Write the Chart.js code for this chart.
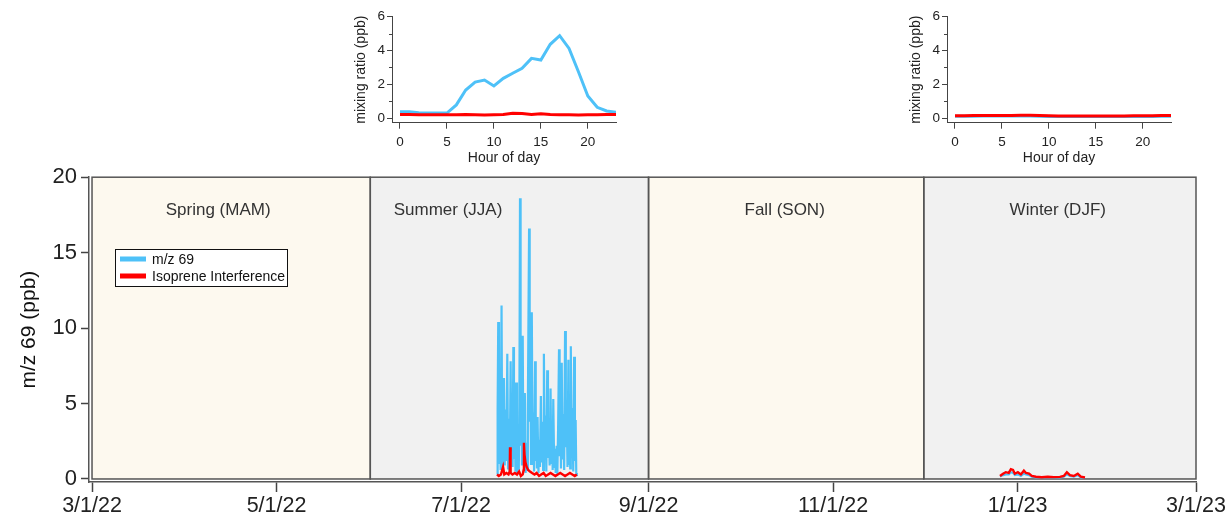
<!DOCTYPE html>
<html lang="en">
<head>
<meta charset="UTF-8">
<title>m/z 69 time series</title>
<script src="https://cdn.jsdelivr.net/npm/chart.js"></script>
<style>
  body { margin: 0; background: #fff; width: 1227px; height: 520px; overflow: hidden; position: relative; }
  .box { position: absolute; }
</style>
</head>
<body>
<div class="box" style="left:0;top:160px;width:1227px;height:360px;"><canvas id="mainChart"></canvas></div>
<div class="box" style="left:340px;top:0;width:290px;height:170px;"><canvas id="summerInset"></canvas></div>
<div class="box" style="left:895px;top:0;width:290px;height:170px;"><canvas id="winterInset"></canvas></div>

<script>
// ---- data (x in days since 3/1/22) ----
const tickDays = [0, 61, 122, 184, 245, 306, 365];
const tickLabels = ['3/1/22', '5/1/22', '7/1/22', '9/1/22', '11/1/22', '1/1/23', '3/1/23'];
const yTicks = [0, 5, 10, 15, 20];

const seasonNames = ['Spring (MAM)', 'Summer (JJA)', 'Fall (SON)', 'Winter (DJF)'];
const seasonStart = [0, 92, 184, 275];
const seasonEnd = [92, 184, 275, 365];
const seasonLabelDay = [41.7, 117.7, 229, 319.3];

const mz69Days = [
  133.9, 134.1, 134.3, 134.55, 134.8, 135.1, 135.4, 135.6, 135.8, 136.0,
  136.2, 136.45, 136.7, 137.0, 137.3, 137.55, 137.8, 138.1, 138.4, 138.6,
  138.85, 139.05, 139.3, 139.5, 139.75, 140.0, 140.2, 140.5, 140.8, 141.1,
  141.3, 141.5, 141.7, 141.95, 142.15, 142.4, 142.6, 142.85, 143.1, 143.35,
  143.6, 143.85, 144.1, 144.5, 144.7, 144.95, 145.15, 145.4, 145.65, 145.9,
  146.15, 146.5, 146.7, 146.95, 147.1, 147.3, 147.6, 147.85, 148.1, 148.4,
  148.65, 148.9, 149.15, 149.4, 149.65, 149.9, 150.2, 150.5, 150.75, 151.0,
  151.3, 151.6, 151.85, 152.1, 152.3, 152.5, 152.8, 153.05, 153.3, 153.6,
  153.85, 154.1, 154.4, 154.6, 154.85, 155.05, 155.3, 155.55, 155.8, 156.1,
  156.4, 156.65, 156.9, 157.2, 157.5, 157.7, 157.95, 158.1, 158.3, 158.55,
  158.8, 159.1, 159.4, 159.65, 159.9, 160.1, 160.3];
const mz69Values = [
  0.3, 4.5, 10.4, 1.0, 3.9, 0.6, 11.5, 2.5, 0.5, 3.2,
  6.7, 0.9, 4.6, 1.2, 8.3, 0.7, 4.0, 0.4, 7.8, 1.9,
  5.2, 0.8, 8.75, 1.3, 3.6, 0.5, 6.4, 0.3, 2.8, 0.6,
  5.0, 18.6, 2.2, 6.1, 0.9, 9.5, 1.4, 3.3, 5.7, 0.4,
  2.4, 0.6, 4.8, 16.6, 3.8, 6.5, 1.0, 11.05, 2.0, 4.4,
  0.5, 7.8, 1.2, 3.0, 0.7, 4.1, 0.4, 2.6, 0.8, 5.5,
  1.1, 3.8, 0.6, 8.3, 1.7, 4.2, 0.5, 7.2, 1.4, 3.5,
  0.9, 6.0, 1.0, 3.1, 0.6, 5.3, 0.8, 2.0, 0.4, 2.2,
  0.3, 3.4, 8.6, 1.5, 4.9, 0.7, 7.7, 1.3, 4.3, 0.6,
  9.8, 2.1, 5.0, 0.8, 7.9, 1.0, 4.5, 0.7, 8.8, 1.6,
  4.7, 0.5, 8.1, 1.2, 3.9, 0.4, 0.2];

const isoSummerDays = [133.9, 134.5, 135.2, 135.9, 136.3, 137.0, 137.7, 138.1, 138.2, 138.4, 139.0, 139.8, 140.5,
  141.2, 141.8, 142.4, 142.7, 142.8, 143.0, 143.3, 143.7, 144.2, 144.8, 145.5, 146.3, 147.0, 147.8, 148.5, 149.3,
  150.0, 150.8, 151.6, 152.4, 153.2, 154.0, 154.8, 155.6, 156.4, 157.2, 158.0, 158.8, 159.6, 160.3];
const isoSummerValues = [0.3, 0.2, 0.3, 0.8, 0.3, 0.4, 0.3, 0.5, 2.1, 0.4, 0.3, 0.4, 0.3,
  0.5, 0.2, 0.3, 0.6, 2.4, 1.6, 1.1, 0.8, 0.6, 0.5, 0.4, 0.3, 0.4, 0.2, 0.3, 0.4,
  0.2, 0.3, 0.4, 0.3, 0.2, 0.3, 0.4, 0.3, 0.2, 0.3, 0.4, 0.3, 0.2, 0.3];

const winterDays = [300.2, 301.2, 302.1, 303.1, 303.8, 304.5, 305.1, 306.1, 307.1, 308.1, 308.8, 309.8, 310.7,
  312.1, 314.0, 316.0, 318.0, 320.0, 321.3, 322.3, 323.3, 324.6, 325.9, 326.9, 328.3];
const isoWinterValues = [0.2, 0.35, 0.45, 0.4, 0.65, 0.6, 0.35, 0.45, 0.3, 0.55, 0.4, 0.35, 0.2,
  0.15, 0.12, 0.15, 0.12, 0.14, 0.2, 0.45, 0.25, 0.2, 0.35, 0.15, 0.1];
const mz69WinterValues = [0.15, 0.25, 0.3, 0.3, 0.45, 0.4, 0.25, 0.3, 0.2, 0.35, 0.3, 0.25, 0.15,
  0.1, 0.1, 0.12, 0.1, 0.1, 0.15, 0.3, 0.2, 0.15, 0.25, 0.1, 0.08];

const hours = [0, 1, 2, 3, 4, 5, 6, 7, 8, 9, 10, 11, 12, 13, 14, 15, 16, 17, 18, 19, 20, 21, 22, 23];
const summerMz69 = [0.39, 0.38, 0.33, 0.32, 0.31, 0.31, 0.79, 1.67, 2.14, 2.26, 1.91, 2.36, 2.66, 2.95, 3.54, 3.44,
  4.37, 4.88, 4.13, 2.75, 1.32, 0.65, 0.43, 0.35];
const summerIso = [0.22, 0.22, 0.21, 0.21, 0.21, 0.21, 0.21, 0.22, 0.21, 0.2, 0.21, 0.22, 0.3, 0.28, 0.22, 0.27,
  0.22, 0.21, 0.21, 0.2, 0.21, 0.21, 0.22, 0.22];
const winterMz69 = [0.12, 0.12, 0.12, 0.13, 0.13, 0.13, 0.13, 0.13, 0.13, 0.12, 0.11, 0.1, 0.1, 0.1, 0.1, 0.1,
  0.1, 0.1, 0.1, 0.11, 0.11, 0.11, 0.12, 0.12];
const winterIso = [0.15, 0.15, 0.16, 0.16, 0.17, 0.17, 0.17, 0.18, 0.18, 0.16, 0.15, 0.14, 0.14, 0.14, 0.14, 0.14,
  0.14, 0.14, 0.14, 0.15, 0.15, 0.15, 0.16, 0.16];

const BLUE = '#4ec1f8';
const RED = '#ff0000';
const FONT = "'Liberation Sans', Arial, sans-serif";

Chart.defaults.font.family = FONT;
Chart.defaults.color = '#222';
Chart.defaults.animation = false;

function pts(xs, ys) { return xs.map((x, i) => ({ x: x, y: ys[i] })); }

// season boxes, labels and legend
const seasonPlugin = {
  id: 'seasons',
  beforeDatasetsDraw(chart) {
    const { ctx, scales: { x, y } } = chart;
    const top = y.getPixelForValue(20), bot = y.getPixelForValue(0);
    ctx.save();
    seasonNames.forEach((name, i) => {
      const l = x.getPixelForValue(seasonStart[i]), r = x.getPixelForValue(seasonEnd[i]);
      ctx.fillStyle = i % 2 === 0 ? '#fdf9ef' : '#f1f1f1';
      ctx.fillRect(l, top, r - l, bot - top);
    });
    ctx.strokeStyle = '#555';
    ctx.lineWidth = 1.5;
    seasonNames.forEach((name, i) => {
      const l = x.getPixelForValue(seasonStart[i]), r = x.getPixelForValue(seasonEnd[i]);
      ctx.strokeRect(l, top, r - l, bot - top);
    });
    ctx.fillStyle = '#333';
    ctx.font = '17px ' + FONT;
    ctx.textAlign = 'center';
    ctx.textBaseline = 'middle';
    seasonNames.forEach((name, i) => {
      ctx.fillText(name, x.getPixelForValue(seasonLabelDay[i]), y.getPixelForValue(17.8));
    });
    ctx.restore();
  },
  afterDatasetsDraw(chart) {
    const { ctx } = chart;
    const bx = 115, by = 89, bw = 172, bh = 37;
    ctx.save();
    ctx.fillStyle = '#fff';
    ctx.fillRect(bx, by, bw, bh);
    ctx.strokeStyle = '#111';
    ctx.lineWidth = 1;
    ctx.strokeRect(bx + 0.5, by + 0.5, bw, bh);
    const items = [chart.data.datasets[0], chart.data.datasets[1]];
    ctx.font = '14px ' + FONT;
    ctx.textBaseline = 'middle';
    items.forEach((ds, i) => {
      const yy = by + 10 + i * 17;
      ctx.fillStyle = ds.borderColor;
      ctx.fillRect(bx + 5, yy - 2.5, 26, 5);
      ctx.fillStyle = '#111';
      ctx.fillText(ds.label, bx + 37, yy + 1);
    });
    ctx.restore();
  }
};

new Chart(document.getElementById('mainChart'), {
  type: 'line',
  data: {
    datasets: [
      { label: 'm/z 69', data: pts(mz69Days, mz69Values), borderColor: BLUE, borderWidth: 2.2, pointRadius: 0, tension: 0, order: 2 },
      { label: 'Isoprene Interference', data: pts(isoSummerDays, isoSummerValues), borderColor: RED, borderWidth: 2.4, pointRadius: 0, tension: 0, order: 1 },
      { label: 'm/z 69 winter', data: pts(winterDays, mz69WinterValues), borderColor: BLUE, borderWidth: 2, pointRadius: 0, tension: 0, order: 2 },
      { label: 'Isoprene winter', data: pts(winterDays, isoWinterValues), borderColor: RED, borderWidth: 2.4, pointRadius: 0, tension: 0, order: 1 }
    ]
  },
  options: {
    responsive: true,
    maintainAspectRatio: false,
    layout: { padding: { left: 0, right: 31, top: 15, bottom: 0 } },
    plugins: { legend: { display: false }, tooltip: { enabled: false } },
    scales: {
      x: {
        type: 'linear', min: -1, max: 365,
        afterBuildTicks: s => { s.ticks = tickDays.map(v => ({ value: v })); },
        afterFit: s => { s.height = 38; },
        ticks: { callback: v => tickLabels[tickDays.indexOf(v)], font: { size: 21.5 }, color: '#222', padding: 1, maxRotation: 0, autoSkip: false },
        grid: { drawOnChartArea: false, drawTicks: true, tickLength: 10, color: '#444', tickWidth: 1.5 },
        border: { display: true, color: '#555', width: 1.5 }
      },
      y: {
        min: -0.2, max: 20,
        afterBuildTicks: s => { s.ticks = yTicks.map(v => ({ value: v })); },
        afterFit: s => { s.width = 89; },
        ticks: { font: { size: 22 }, color: '#222', padding: 4 },
        grid: { drawOnChartArea: false, drawTicks: true, tickLength: 8, color: '#444', tickWidth: 1.5 },
        border: { display: true, color: '#555', width: 1.5 },
        title: { display: true, text: 'm/z 69 (ppb)', font: { size: 21 }, color: '#111', padding: { top: 17, bottom: 0 } }
      }
    }
  },
  plugins: [seasonPlugin]
});

// minor y ticks for insets
const minorTicks = {
  id: 'minorTicks',
  afterDraw(chart) {
    const { ctx, scales: { y } } = chart;
    ctx.save();
    ctx.strokeStyle = '#444';
    ctx.lineWidth = 1;
    [1, 3, 5].forEach(v => {
      const py = Math.round(y.getPixelForValue(v)) + 0.5;
      ctx.beginPath();
      ctx.moveTo(y.right - 3, py);
      ctx.lineTo(y.right, py);
      ctx.stroke();
    });
    ctx.restore();
  }
};

function inset(id, blue, red) {
  new Chart(document.getElementById(id), {
    type: 'line',
    data: {
      labels: hours,
      datasets: [
        { label: 'm/z 69', data: pts(hours, blue), borderColor: BLUE, borderWidth: 3, pointRadius: 0, order: 2 },
        { label: 'Isoprene Interference', data: pts(hours, red), borderColor: RED, borderWidth: 3, pointRadius: 0, order: 1 }
      ]
    },
    options: {
      responsive: true,
      maintainAspectRatio: false,
      layout: { padding: { left: 0, right: 14, top: 16.7, bottom: 0 } },
      plugins: { legend: { display: false }, tooltip: { enabled: false } },
      scales: {
        x: {
          type: 'linear', min: -0.85, max: 23,
          afterBuildTicks: s => { s.ticks = [0, 5, 10, 15, 20].map(v => ({ value: v })); },
          afterFit: s => { s.height = 47.3; },
          ticks: { font: { size: 13.5 }, color: '#222', padding: 5, maxRotation: 0 },
          grid: { drawOnChartArea: false, drawTicks: true, tickLength: 6, color: '#444' },
          border: { display: true, color: '#444', width: 1 },
          title: { display: true, text: 'Hour of day', font: { size: 14 }, color: '#222', padding: { top: 0, bottom: 3.3 } }
        },
        y: {
          min: -0.26, max: 6,
          afterBuildTicks: s => { s.ticks = [0, 2, 4, 6].map(v => ({ value: v })); },
          afterFit: s => { s.width = 52; },
          ticks: { font: { size: 13.5 }, color: '#222', padding: 2 },
          grid: { drawOnChartArea: false, drawTicks: true, tickLength: 5, color: '#444' },
          border: { display: true, color: '#444', width: 1 },
          title: { display: true, text: 'mixing ratio (ppb)', font: { size: 14 }, color: '#222', padding: { top: 13, bottom: 0 } }
        }
      }
    },
    plugins: [minorTicks]
  });
}

inset('summerInset', summerMz69, summerIso);
inset('winterInset', winterMz69, winterIso);
</script>
</body>
</html>
